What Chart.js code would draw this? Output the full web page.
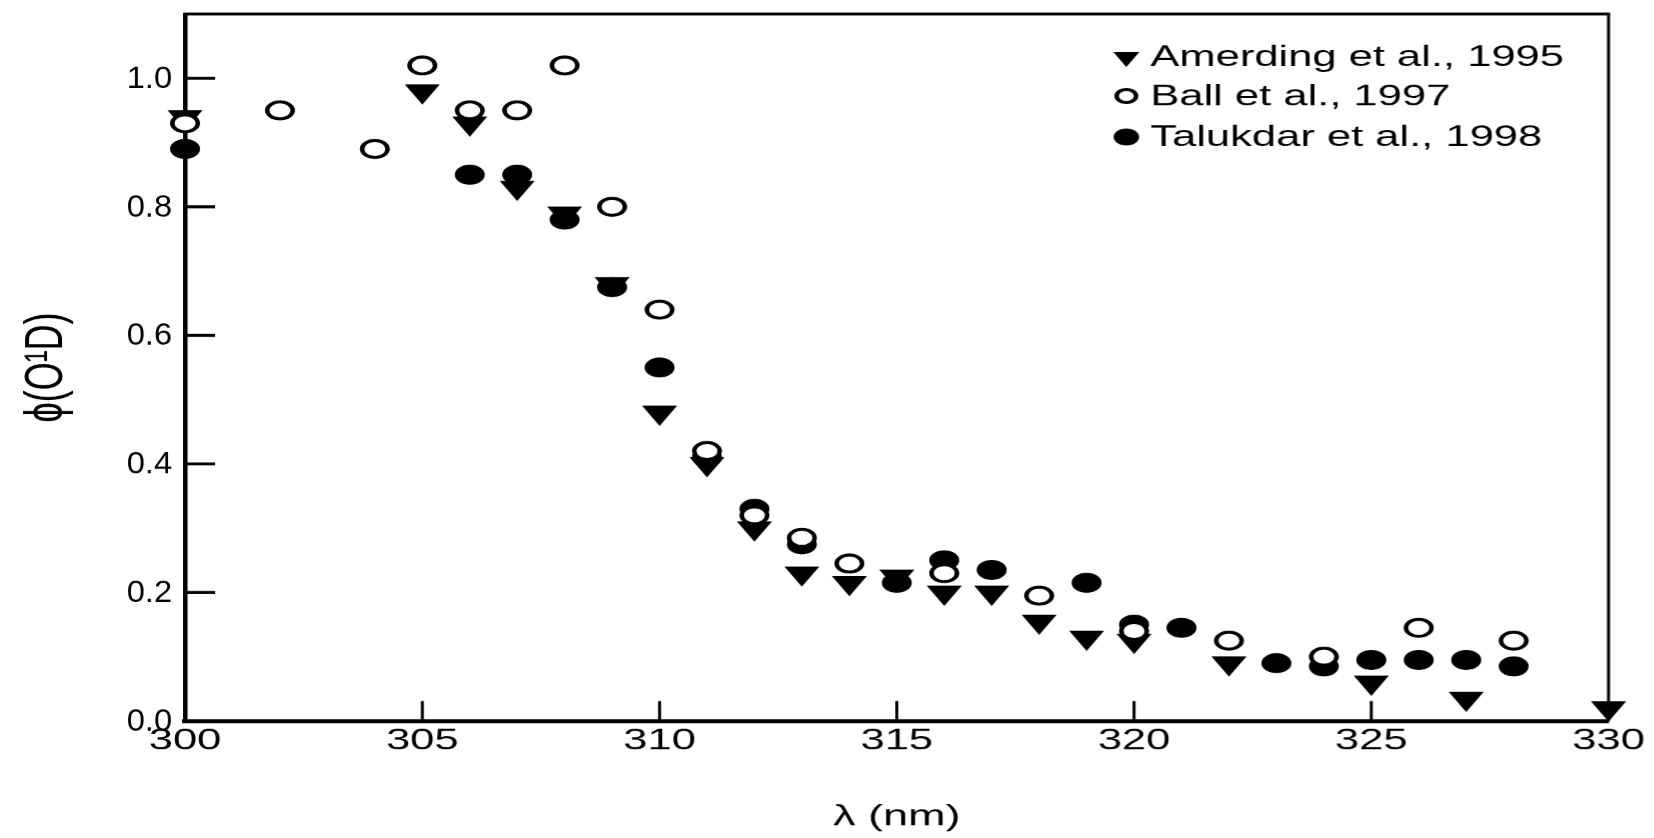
<!DOCTYPE html>
<html>
<head>
<meta charset="utf-8">
<title>O(1D) quantum yield</title>
<script src="https://cdn.jsdelivr.net/npm/chart.js@4.4.1/dist/chart.umd.min.js"></script>
<style>
  html, body { margin: 0; padding: 0; background: #fff; overflow: hidden; }
  /* the printed figure is stretched sideways, so draw it narrow and widen it */
  #wrap {
    position: absolute; left: 0; top: 0;
    width: 1102.667px; height: 838px;
    transform: scaleX(1.5); transform-origin: 0 0;
  }
</style>
</head>
<body>
<div id="wrap"><canvas id="qy-chart"></canvas></div>
<script>
var STRETCH = 1.5;

// Amerding et al., 1995 (filled down triangles)
var amerdingNm  = [300, 305, 306, 307, 308, 309, 310, 311, 312, 313, 314, 315, 316, 317, 318, 319, 320, 322, 325, 327, 330];
var amerdingPhi = [0.94, 0.98, 0.93, 0.83, 0.79, 0.68, 0.48, 0.40, 0.30, 0.23, 0.215, 0.225, 0.20, 0.20, 0.155, 0.13, 0.125, 0.09, 0.06, 0.035, 0.02];

// Ball et al., 1997 (open circles)
var ballNm  = [300, 302, 304, 305, 306, 307, 308, 309, 310, 311, 312, 313, 314, 316, 318, 320, 322, 324, 326, 328];
var ballPhi = [0.93, 0.95, 0.89, 1.02, 0.95, 0.95, 1.02, 0.80, 0.64, 0.42, 0.32, 0.285, 0.245, 0.23, 0.195, 0.14, 0.125, 0.10, 0.145, 0.125];

// Talukdar et al., 1998 (filled circles)
var talukdarNm  = [300, 306, 307, 308, 309, 310, 311, 312, 313, 315, 316, 317, 319, 320, 321, 323, 324, 325, 326, 327, 328];
var talukdarPhi = [0.89, 0.85, 0.85, 0.78, 0.675, 0.55, 0.41, 0.33, 0.275, 0.215, 0.25, 0.235, 0.215, 0.15, 0.145, 0.09, 0.085, 0.095, 0.095, 0.095, 0.085];

var seriesNames = ['Amerding et al., 1995', 'Ball et al., 1997', 'Talukdar et al., 1998'];
var xTicks = [300, 305, 310, 315, 320, 325, 330];
var yTicks = [0.0, 0.2, 0.4, 0.6, 0.8, 1.0];

function toPoints(xs, ys) {
    return xs.map(function(x, i) { return { x: x, y: ys[i] }; });
}

// top/right box edges, inward tick marks, and the narrower y labels
var framePlugin = {
    id: 'frame',
    beforeDatasetsDraw: function(chart) {
        var ctx = chart.ctx;
        var a = chart.chartArea;
        var xs = chart.scales.x;
        var ys = chart.scales.y;

        function line(x1, y1, x2, y2) {
            ctx.beginPath();
            ctx.moveTo(x1, y1);
            ctx.lineTo(x2, y2);
            ctx.stroke();
        }

        ctx.save();
        ctx.strokeStyle = '#000';
        ctx.lineWidth = 3;
        line(a.left, a.top, a.right + 1, a.top);
        ctx.lineWidth = 2;
        line(a.right, a.top, a.right, a.bottom);

        ctx.lineWidth = 3;
        yTicks.forEach(function(v) {
            if (v === 0) return;
            var py = ys.getPixelForValue(v);
            line(a.left, py, a.left + 30 / STRETCH, py);
        });
        ctx.lineWidth = 2;
        xTicks.forEach(function(v) {
            if (v === xTicks[0] || v === xTicks[xTicks.length - 1]) return;
            var px = xs.getPixelForValue(v);
            line(px, a.bottom, px, a.bottom - 20);
        });

        // y labels are set less wide than the rest of the figure
        ctx.fillStyle = '#000';
        ctx.font = '31px "Liberation Sans", Arial, sans-serif';
        ctx.textAlign = 'right';
        ctx.textBaseline = 'middle';
        yTicks.forEach(function(v) {
            ctx.save();
            ctx.translate(172 / STRETCH, ys.getPixelForValue(v) + 1);
            ctx.scale(0.7, 1);
            ctx.fillText(v.toFixed(1), 0, 0);
            ctx.restore();
        });
        ctx.restore();
    }
};

// legend sits inside the box, top right, with smaller markers
var legendPlugin = {
    id: 'insideLegend',
    afterDraw: function(chart) {
        var ctx = chart.ctx;
        var markerX = 1126 / STRETCH;
        var textX = 1150 / STRETCH;
        var rows = [57, 96, 137];
        var sizes = [9, 6.5, 8];

        ctx.save();
        ctx.font = '29px "Liberation Sans", Arial, sans-serif';
        ctx.textBaseline = 'middle';
        ctx.textAlign = 'left';
        chart.data.datasets.forEach(function(ds, i) {
            ctx.fillStyle = ds.pointBackgroundColor;
            ctx.strokeStyle = ds.pointBorderColor;
            ctx.lineWidth = ds.pointBorderWidth;
            Chart.helpers.drawPoint(ctx, {
                pointStyle: ds.pointStyle,
                rotation: ds.pointRotation || 0,
                radius: sizes[i],
                borderWidth: ds.pointBorderWidth
            }, markerX, rows[i]);
            ctx.fillStyle = '#000';
            ctx.fillText(ds.label, textX, rows[i] + 1);
        });
        ctx.restore();
    }
};

Chart.defaults.font.family = '"Liberation Sans", Arial, sans-serif';
Chart.defaults.color = '#000';

new Chart(document.getElementById('qy-chart'), {
    type: 'scatter',
    data: {
        datasets: [{
            label: seriesNames[0],
            data: toPoints(amerdingNm, amerdingPhi),
            pointStyle: 'triangle',
            pointRotation: 180,
            pointRadius: 12.5,
            pointBackgroundColor: '#000',
            pointBorderColor: '#000',
            pointBorderWidth: 1,
            order: 3
        }, {
            label: seriesNames[1],
            data: toPoints(ballNm, ballPhi),
            pointStyle: 'circle',
            pointRadius: 8.5,
            pointBackgroundColor: '#fff',
            pointBorderColor: '#000',
            pointBorderWidth: 3,
            order: 1
        }, {
            label: seriesNames[2],
            data: toPoints(talukdarNm, talukdarPhi),
            pointStyle: 'circle',
            pointRadius: 9.5,
            pointBackgroundColor: '#000',
            pointBorderColor: '#000',
            pointBorderWidth: 1,
            order: 2
        }]
    },
    options: {
        responsive: true,
        maintainAspectRatio: false,
        devicePixelRatio: STRETCH,
        animation: false,
        events: [],
        clip: false,
        layout: {
            padding: { top: 14, right: 46 / STRETCH, left: 0, bottom: 0 }
        },
        plugins: {
            legend: { display: false },
            tooltip: { enabled: false }
        },
        scales: {
            x: {
                type: 'linear',
                min: 300,
                max: 330,
                afterBuildTicks: function(scale) {
                    scale.ticks = xTicks.map(function(v) { return { value: v }; });
                },
                afterFit: function(scale) {
                    scale.height = 838 - 721;
                    scale.paddingLeft = 0;
                    scale.paddingRight = 0;
                },
                grid: { display: true, drawOnChartArea: false, drawTicks: false },
                border: { display: true, color: '#000', width: 4 },
                ticks: {
                    padding: 6,
                    font: { size: 29, lineHeight: 1 },
                    maxRotation: 0,
                    callback: function(v) { return String(v); }
                },
                title: {
                    display: true,
                    text: 'λ (nm)',
                    font: { size: 30, lineHeight: 1.2 },
                    padding: 3
                }
            },
            y: {
                type: 'linear',
                min: 0,
                max: 1.1,
                afterBuildTicks: function(scale) {
                    scale.ticks = yTicks.map(function(v) { return { value: v }; });
                },
                afterFit: function(scale) {
                    scale.width = 185 / STRETCH;
                    scale.paddingTop = 0;
                    scale.paddingBottom = 0;
                },
                grid: { display: true, drawOnChartArea: false, drawTicks: false },
                border: { display: true, color: '#000', width: 3 },
                ticks: { display: false },
                title: {
                    display: true,
                    text: 'ϕ(O¹D)',
                    font: { size: 36, lineHeight: 1.2 },
                    padding: 9.7
                }
            }
        }
    },
    plugins: [framePlugin, legendPlugin]
});
</script>
</body>
</html>
